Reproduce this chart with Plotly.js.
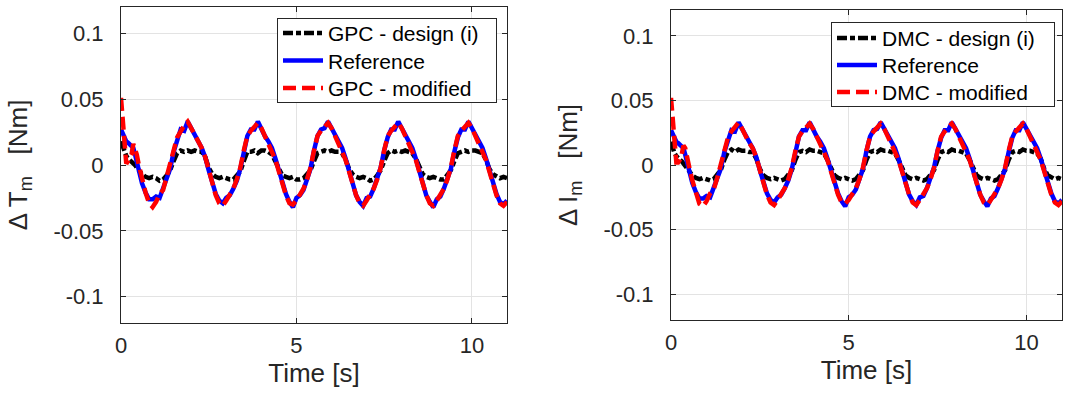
<!DOCTYPE html>
<html>
<head>
<meta charset="utf-8">
<script src="https://cdn.plot.ly/plotly-3.0.1.min.js"></script>
<style>
  html, body { margin: 0; padding: 0; background: #ffffff; }
  #chart { width: 1065px; height: 394px; }
</style>
</head>
<body>
<div id="chart"></div>
<script>
// Sample instants [s]: 0.05 s steps over the start-up transient, 0.1 s after that.
const time = [
  0, 0.05, 0.1, 0.15, 0.2, 0.25, 0.3, 0.35, 0.4, 0.45,
  0.5, 0.6, 0.7, 0.8, 0.9,
  1.0, 1.1, 1.2, 1.3, 1.4, 1.5, 1.6, 1.7, 1.8, 1.9,
  2.0, 2.1, 2.2, 2.3, 2.4, 2.5, 2.6, 2.7, 2.8, 2.9,
  3.0, 3.1, 3.2, 3.3, 3.4, 3.5, 3.6, 3.7, 3.8, 3.9,
  4.0, 4.1, 4.2, 4.3, 4.4, 4.5, 4.6, 4.7, 4.8, 4.9,
  5.0, 5.1, 5.2, 5.3, 5.4, 5.5, 5.6, 5.7, 5.8, 5.9,
  6.0, 6.1, 6.2, 6.3, 6.4, 6.5, 6.6, 6.7, 6.8, 6.9,
  7.0, 7.1, 7.2, 7.3, 7.4, 7.5, 7.6, 7.7, 7.8, 7.9,
  8.0, 8.1, 8.2, 8.3, 8.4, 8.5, 8.6, 8.7, 8.8, 8.9,
  9.0, 9.1, 9.2, 9.3, 9.4, 9.5, 9.6, 9.7, 9.8, 9.9,
  10.0, 10.1, 10.2, 10.3, 10.4, 10.5, 10.6, 10.7, 10.8, 10.9,
  11.0
];

// Torque reference ΔT_m [Nm], shared by both controllers
const reference = [
  0.027, 0.024, 0.020, 0.018, 0.017, 0.016, 0.015, 0.013, 0.008, 0.002,
  -0.004, -0.014, -0.021, -0.026, -0.026,
  -0.024, -0.025, -0.017, -0.010, -0.003, 0.010, 0.020, 0.027, 0.026, 0.033,
  0.028, 0.022, 0.018, 0.013, 0.006, -0.004, -0.014, -0.022, -0.027, -0.029,
  -0.025, -0.023, -0.018, -0.012, -0.003, 0.010, 0.022, 0.027, 0.027, 0.033,
  0.027, 0.022, 0.018, 0.013, 0.005, -0.004, -0.014, -0.022, -0.028, -0.032,
  -0.025, -0.023, -0.019, -0.012, -0.003, 0.011, 0.022, 0.027, 0.028, 0.033,
  0.028, 0.022, 0.017, 0.013, 0.005, -0.004, -0.015, -0.023, -0.028, -0.031,
  -0.025, -0.024, -0.018, -0.011, -0.002, 0.011, 0.021, 0.027, 0.027, 0.033,
  0.028, 0.022, 0.018, 0.013, 0.005, -0.005, -0.015, -0.023, -0.028, -0.032,
  -0.026, -0.024, -0.018, -0.011, -0.003, 0.010, 0.021, 0.027, 0.027, 0.033,
  0.028, 0.022, 0.018, 0.013, 0.005, -0.004, -0.014, -0.022, -0.028, -0.030,
  -0.027
];

// GPC, design (i)
const gpcDesign = [
  0.018, 0.014, 0.010, 0.007, 0.005, 0.004, 0.003, 0.002, 0.000, -0.002,
  -0.004, -0.007, -0.009, -0.010, -0.009,
  -0.010, -0.012, -0.011, -0.008, -0.004, 0.003, 0.009, 0.011, 0.010, 0.011,
  0.010, 0.011, 0.010, 0.010, 0.006, -0.002, -0.007, -0.009, -0.010, -0.009,
  -0.010, -0.011, -0.011, -0.008, -0.005, 0.003, 0.010, 0.010, 0.011, 0.009,
  0.011, 0.011, 0.010, 0.008, 0.002, -0.004, -0.008, -0.009, -0.010, -0.009,
  -0.011, -0.011, -0.010, -0.007, -0.004, 0.003, 0.009, 0.010, 0.011, 0.010,
  0.011, 0.010, 0.010, 0.009, 0.004, -0.003, -0.007, -0.009, -0.010, -0.009,
  -0.010, -0.012, -0.011, -0.008, -0.004, 0.003, 0.009, 0.011, 0.010, 0.011,
  0.010, 0.011, 0.010, 0.009, 0.005, -0.002, -0.007, -0.009, -0.010, -0.009,
  -0.010, -0.011, -0.011, -0.008, -0.004, 0.003, 0.009, 0.010, 0.011, 0.010,
  0.011, 0.011, 0.010, 0.009, 0.004, -0.003, -0.007, -0.009, -0.010, -0.009,
  -0.010
];

// GPC, modified tuning
const gpcModified = [
  0.051, 0.036, 0.012, 0.001, 0.003, 0.005, 0.008, 0.016, 0.013, 0.008,
  0.001, -0.011, -0.021, -0.029, -0.032,
  -0.028, -0.022, -0.019, -0.010, 0.000, 0.011, 0.021, 0.026, 0.030, 0.033,
  0.028, 0.022, 0.017, 0.013, 0.006, -0.004, -0.015, -0.023, -0.029, -0.031,
  -0.027, -0.022, -0.018, -0.011, -0.002, 0.011, 0.022, 0.026, 0.029, 0.032,
  0.028, 0.022, 0.017, 0.012, 0.004, -0.005, -0.015, -0.023, -0.029, -0.030,
  -0.027, -0.022, -0.018, -0.011, -0.002, 0.011, 0.022, 0.026, 0.029, 0.032,
  0.028, 0.022, 0.017, 0.012, 0.004, -0.005, -0.015, -0.023, -0.029, -0.031,
  -0.027, -0.022, -0.018, -0.011, -0.002, 0.011, 0.022, 0.026, 0.029, 0.032,
  0.028, 0.022, 0.017, 0.012, 0.004, -0.005, -0.015, -0.023, -0.029, -0.031,
  -0.027, -0.022, -0.018, -0.011, -0.002, 0.011, 0.022, 0.026, 0.029, 0.032,
  0.028, 0.022, 0.017, 0.012, 0.004, -0.005, -0.015, -0.023, -0.029, -0.031,
  -0.028
];

// DMC, design (i)
const dmcDesign = [
  0.018, 0.013, 0.009, 0.007, 0.005, 0.004, 0.003, 0.001, -0.001, -0.003,
  -0.005, -0.008, -0.010, -0.011, -0.010,
  -0.011, -0.012, -0.011, -0.008, -0.004, 0.004, 0.010, 0.012, 0.010, 0.012,
  0.011, 0.011, 0.010, 0.010, 0.005, -0.003, -0.008, -0.010, -0.011, -0.010,
  -0.011, -0.012, -0.011, -0.008, -0.004, 0.004, 0.010, 0.011, 0.010, 0.012,
  0.011, 0.011, 0.010, 0.009, 0.004, -0.003, -0.008, -0.010, -0.011, -0.010,
  -0.011, -0.012, -0.011, -0.008, -0.004, 0.004, 0.010, 0.011, 0.010, 0.012,
  0.011, 0.011, 0.010, 0.009, 0.004, -0.003, -0.008, -0.010, -0.011, -0.010,
  -0.011, -0.012, -0.011, -0.008, -0.004, 0.004, 0.010, 0.011, 0.010, 0.012,
  0.011, 0.011, 0.010, 0.009, 0.004, -0.003, -0.008, -0.010, -0.011, -0.010,
  -0.011, -0.012, -0.011, -0.008, -0.004, 0.004, 0.010, 0.011, 0.010, 0.012,
  0.011, 0.011, 0.010, 0.009, 0.005, -0.003, -0.008, -0.010, -0.011, -0.010,
  -0.011
];

// DMC, modified tuning
const dmcModified = [
  0.052, 0.034, 0.010, 0.002, 0.002, 0.004, 0.008, 0.015, 0.013, 0.008,
  0.000, -0.012, -0.022, -0.030, -0.032,
  -0.028, -0.022, -0.019, -0.010, 0.000, 0.011, 0.021, 0.026, 0.030, 0.033,
  0.028, 0.022, 0.017, 0.013, 0.006, -0.004, -0.015, -0.023, -0.029, -0.031,
  -0.027, -0.022, -0.018, -0.011, -0.002, 0.011, 0.022, 0.026, 0.029, 0.032,
  0.028, 0.022, 0.017, 0.012, 0.004, -0.005, -0.015, -0.023, -0.029, -0.030,
  -0.027, -0.022, -0.018, -0.011, -0.002, 0.011, 0.022, 0.026, 0.029, 0.032,
  0.028, 0.022, 0.017, 0.012, 0.004, -0.005, -0.015, -0.023, -0.029, -0.031,
  -0.027, -0.022, -0.018, -0.011, -0.002, 0.011, 0.022, 0.026, 0.029, 0.032,
  0.028, 0.022, 0.017, 0.012, 0.004, -0.005, -0.015, -0.023, -0.029, -0.031,
  -0.027, -0.022, -0.018, -0.011, -0.002, 0.011, 0.022, 0.026, 0.029, 0.032,
  0.028, 0.022, 0.017, 0.012, 0.004, -0.005, -0.015, -0.023, -0.029, -0.031,
  -0.028
];

const gpcNames = ['GPC - design (i)', 'Reference', 'GPC - modified'];
const dmcNames = ['DMC - design (i)', 'Reference', 'DMC - modified'];

const xTickVals = [0, 5, 10];
const xTickText = ['0', '5', '10'];
const yTickVals = [-0.1, -0.05, 0, 0.05, 0.1];
const yTickText = ['-0.1', '-0.05', '0', '0.05', '0.1'];

const FONT = '"Liberation Sans", Arial, Helvetica, sans-serif';
const INK = '#262626';
const W = 1065, H = 394;
const NBSP = '\u00a0';

const lineStyles = [
  { color: '#000000', width: 4.5, dash: '10px,3px,5px,3px' },
  { color: '#0000ff', width: 4.5, dash: 'solid' },
  { color: '#ff0000', width: 4.5, dash: '13px,6px' }
];

function panelTraces(series, names, xa, ya, legendId) {
  return series.map((y, i) => ({
    type: 'scatter', mode: 'lines',
    x: time, y: y, name: names[i],
    xaxis: xa, yaxis: ya, legend: legendId,
    line: lineStyles[i], hoverinfo: 'skip'
  }));
}

const data = [
  ...panelTraces([gpcDesign, reference, gpcModified], gpcNames, 'x', 'y', 'legend'),
  ...panelTraces([dmcDesign, reference, dmcModified], dmcNames, 'x2', 'y2', 'legend2')
];

function xAxis(x0, x1, anchor) {
  return {
    domain: [x0 / W, x1 / W], anchor: anchor, range: [0, 11],
    tickmode: 'array', tickvals: xTickVals, ticktext: xTickText,
    ticks: 'inside', ticklen: 5, tickwidth: 1, tickcolor: INK,
    showline: true, linecolor: INK, linewidth: 1, mirror: 'ticks',
    showgrid: true, gridcolor: '#e3e3e3', gridwidth: 1, zeroline: false,
    tickfont: { family: FONT, size: 22, color: INK },
    ticklabelstandoff: 3,
    title: { text: 'Time [s]', font: { family: FONT, size: 26, color: INK }, standoff: 1 },
    fixedrange: true
  };
}

function yAxis(top, bottom, anchor, label) {
  return {
    domain: [1 - bottom / H, 1 - top / H], anchor: anchor, range: [-0.12, 0.12],
    tickmode: 'array', tickvals: yTickVals, ticktext: yTickText,
    ticks: 'inside', ticklen: 5, tickwidth: 1, tickcolor: INK,
    showline: true, linecolor: INK, linewidth: 1, mirror: 'ticks',
    showgrid: true, gridcolor: '#e3e3e3', gridwidth: 1, zeroline: false,
    tickfont: { family: FONT, size: 22, color: INK },
    ticklabelstandoff: 12,
    title: { text: label, font: { family: FONT, size: 26, color: INK }, standoff: 18 },
    fixedrange: true
  };
}

function legendBox(xRight, yTop) {
  return {
    x: xRight / W, xanchor: 'right', y: 1 - yTop / H, yanchor: 'top',
    bgcolor: '#ffffff', bordercolor: INK, borderwidth: 1,
    font: { family: FONT, size: 21, color: '#000000' },
    tracegroupgap: 0, itemwidth: 40
  };
}

const layout = {
  width: W, height: H,
  margin: { l: 0, r: 0, t: 0, b: 0 },
  paper_bgcolor: '#ffffff', plot_bgcolor: '#ffffff',
  font: { family: FONT, color: INK },
  showlegend: true,
  xaxis: xAxis(121, 507, 'y'),
  yaxis: yAxis(7, 323, 'x', 'Δ T<sub>m</sub>' + NBSP + NBSP + NBSP + '[Nm]'),
  xaxis2: xAxis(671, 1062, 'y2'),
  yaxis2: yAxis(10, 320, 'x2', 'Δ I<sub>m</sub>' + NBSP + NBSP + NBSP + '[Nm]'),
  legend: legendBox(497, 18),
  legend2: legendBox(1055, 22)
};

// Tighten the legend boxes: a little wider, rows packed closer together.
function tidyLegend(id, boxW, boxH, rows) {
  const g = document.querySelector('#chart g.' + id);
  if (!g) return;
  const bg = g.querySelector('rect.bg');
  if (!bg) return;
  const oldW = parseFloat(bg.getAttribute('width'));
  bg.setAttribute('width', boxW);
  bg.setAttribute('height', boxH);
  const m = /translate\(\s*([-\d.e]+)[\s,]+([-\d.e]+)\s*\)/.exec(g.getAttribute('transform') || '');
  if (m) g.setAttribute('transform', 'translate(' + (parseFloat(m[1]) - (boxW - oldW)) + ',' + m[2] + ')');
  g.querySelectorAll('g.traces').forEach((tr, i) => {
    const t = /translate\(\s*([-\d.e]+)/.exec(tr.getAttribute('transform') || '');
    const tx = t ? t[1] : 0;
    if (rows[i] !== undefined) tr.setAttribute('transform', 'translate(' + tx + ',' + rows[i] + ')');
  });
}

Plotly.newPlot('chart', data, layout, { displayModeBar: false, staticPlot: true }).then(() => {
  tidyLegend('legend', 219, 84, [15, 42.5, 70]);
  tidyLegend('legend2', 223, 84, [16, 43, 70]);
});
</script>
</body>
</html>
